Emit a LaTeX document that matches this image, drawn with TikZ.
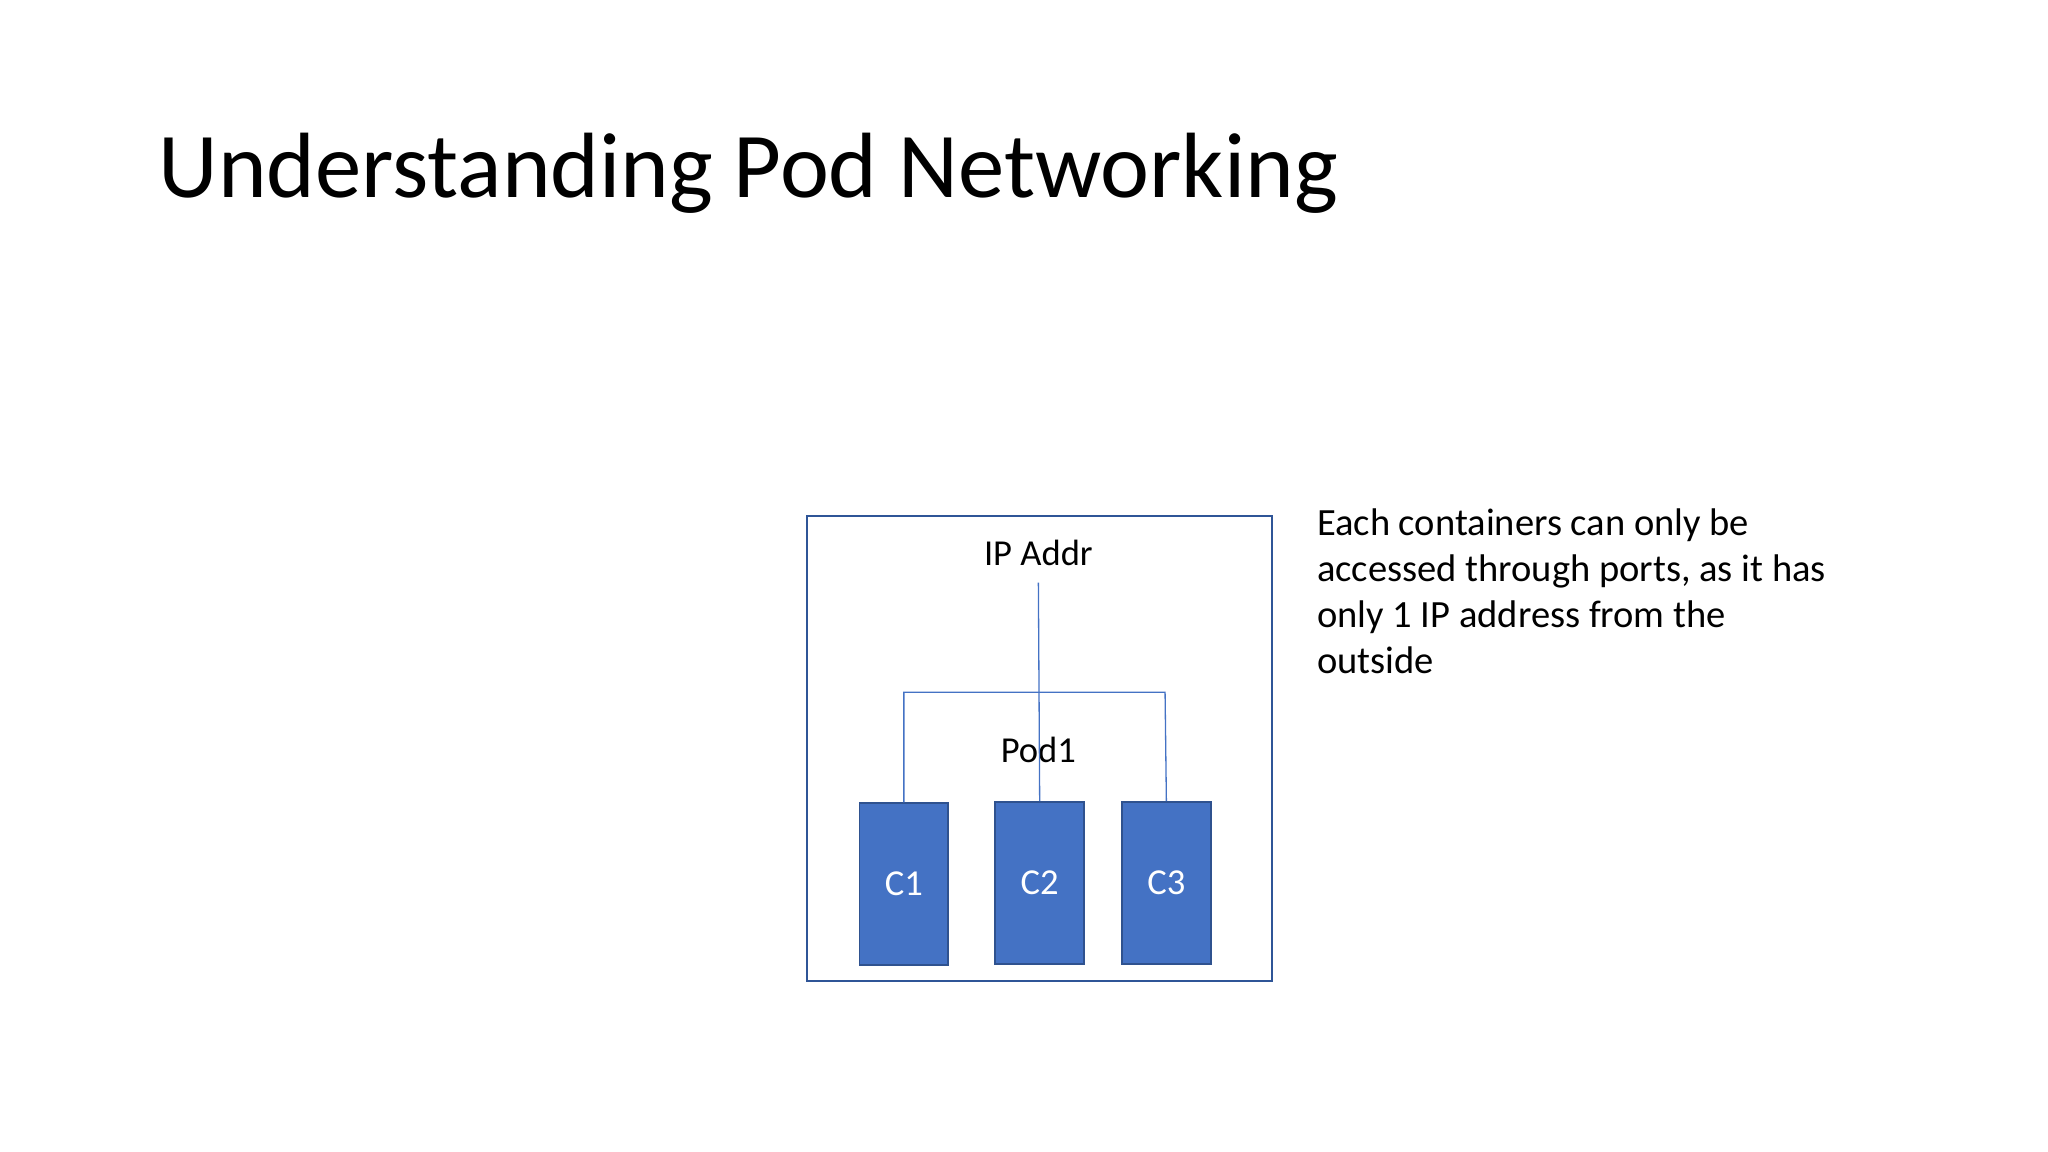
\documentclass[tikz,border=0pt]{standalone}
\usepackage{fontspec}
\setmainfont{Carlito}
\definecolor{cfill}{HTML}{4472C4}
\definecolor{cedge}{HTML}{2F528F}
\definecolor{podedge}{HTML}{2F5597}
\begin{document}
\begin{tikzpicture}[x=0.5pt,y=-0.5pt,
  cont/.style={draw=cedge,fill=cfill,line width=0.6pt,minimum width=34pt,minimum height=62pt,inner sep=0pt,text=white,font=\fontsize{14}{16}\selectfont},
  wire/.style={draw=cfill,line width=0.5pt},
  lbl/.style={font=\fontsize{14}{16}\selectfont,inner sep=0pt}]
\useasboundingbox (0,0) rectangle (1568,882);
\node[anchor=west,inner sep=0pt,font=\fontsize{35.5}{42}\selectfont] (title) at (121,133) {Understanding Pod Networking};
\node[draw=podedge,line width=0.7pt,minimum width=178pt,minimum height=178pt,inner sep=0pt] (pod) at (796,573) {};
\node[lbl] (ip) at (795,423) {IP Addr};
\node[lbl] (pod1) at (795,574) {Pod1};
\node[cont] (c1) at (692,677) {C1};
\node[cont] (c2) at (796,676) {C2};
\node[cont] (c3) at (893,676) {C3};
\coordinate (top) at (795,446);
\coordinate (hl) at (692,530);
\coordinate (hr) at (892,530);
\draw[wire] (top) -- (c2.north);
\draw[wire] (c1.north) -- (hl) -- (hr) -- (c3.north);
\node[anchor=north west,align=left,inner sep=0pt,font=\fontsize{14.75}{17.6}\selectfont] (desc) at (1008,389) {Each containers can only be\\accessed through ports, as it has\\only 1 IP address from the\\outside};
\end{tikzpicture}
\end{document}
